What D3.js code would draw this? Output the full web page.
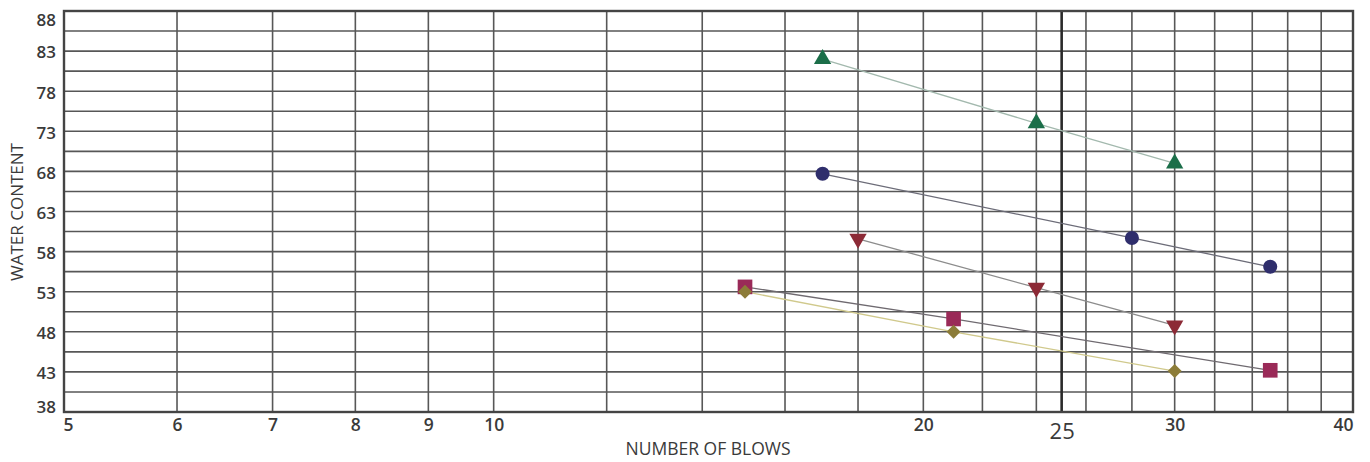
<!DOCTYPE html>
<html>
<head>
<meta charset="utf-8">
<script src="https://cdn.jsdelivr.net/npm/d3@7"></script>
<style>
  html, body { margin: 0; padding: 0; background: #fff; }
  svg { display: block; }
  text { font-family: "Open Sans", Lato, sans-serif; fill: #3a3a3a; }
</style>
</head>
<body>
<svg id="chart" width="1370" height="462"></svg>
<script>
// ---- data ----
const xTickLabels = [5, 6, 7, 8, 9, 10, 20, 25, 30, 40];
const xGridValues = [5, 6, 7, 8, 9, 10, 12, 14, 16, 18, 20, 22, 24, 25, 26, 28, 30, 32, 34, 36, 38, 40];
const yTickLabels = [38, 43, 48, 53, 58, 63, 68, 73, 78, 83, 88];
const yGridValues = d3.range(38, 88.01, 2.5);

const seriesNames = ["Triangle", "Circle", "InvTriangle", "Square", "Diamond"];
const blowsTriangle = [17, 24, 30];
const waterTriangle = [82, 74, 69];
const blowsCircle = [17, 28, 35];
const waterCircle = [67.7, 59.7, 56.1];
const blowsInvTriangle = [18, 24, 30];
const waterInvTriangle = [59.6, 53.5, 48.8];
const blowsSquare = [15, 21, 35];
const waterSquare = [53.6, 49.6, 43.2];
const blowsDiamond = [15, 21, 30];
const waterDiamond = [53.0, 48.0, 43.1];

const series = [
  { name: seriesNames[0], x: blowsTriangle, y: waterTriangle, color: "#1b6e49", line: "#a3b9ae", sym: d3.symbolTriangle, size: 130, rot: 0 },
  { name: seriesNames[1], x: blowsCircle, y: waterCircle, color: "#2f2e6c", line: "#6c6c78", sym: d3.symbolCircle, size: 155, rot: 0 },
  { name: seriesNames[2], x: blowsInvTriangle, y: waterInvTriangle, color: "#8c2a36", line: "#8c8c8c", sym: d3.symbolTriangle, size: 130, rot: 180 },
  { name: seriesNames[3], x: blowsSquare, y: waterSquare, color: "#9a2a58", line: "#6f6a70", sym: d3.symbolSquare, size: 215, rot: 0 },
  { name: seriesNames[4], x: blowsDiamond, y: waterDiamond, color: "#8c7c38", line: "#d0c98c", sym: d3.symbolDiamond2, size: 125, rot: 0 }
];

// ---- layout ----
const mLeft = 64, mRight = 1353, mTop = 11, mBottom = 412;
const svg = d3.select("#chart");

const x = d3.scaleLog().domain([5, 40]).range([mLeft, mRight]);
const y = d3.scaleLinear().domain([38, 88]).range([mBottom, mTop]);

// horizontal grid
svg.append("g").selectAll("line").data(yGridValues).join("line")
  .attr("x1", mLeft).attr("x2", mRight)
  .attr("y1", d => y(d)).attr("y2", d => y(d))
  .attr("stroke", "#575757").attr("stroke-width", 1.6);

// vertical grid
svg.append("g").selectAll("line").data(xGridValues).join("line")
  .attr("x1", d => x(d)).attr("x2", d => x(d))
  .attr("y1", mTop).attr("y2", mBottom)
  .attr("stroke", d => d === 25 ? "#2a2a2a" : "#575757")
  .attr("stroke-width", d => d === 25 ? 2.6 : 1.6);

// frame
svg.append("rect")
  .attr("x", mLeft).attr("y", mTop)
  .attr("width", mRight - mLeft).attr("height", mBottom - mTop)
  .attr("fill", "none").attr("stroke", "#444").attr("stroke-width", 2.4);

// x axis labels
const xAxis = d3.axisBottom(x).tickValues(xTickLabels).tickFormat(d3.format("d")).tickSize(0);
const gx = svg.append("g").attr("transform", `translate(0,${mBottom})`).call(xAxis);
gx.select(".domain").remove();
gx.selectAll("text")
  .attr("dy", "0")
  .style("font-family", "'Open Sans', sans-serif")
  .style("font-size", d => d === 25 ? "22px" : "17.5px")
  .style("font-weight", d => d === 25 ? "400" : "600")
  .attr("y", d => d === 25 ? 27 : 19)
  .attr("dx", d => d === 5 ? 4 : (d === 40 ? -10 : 0))
  .attr("fill", "#3c3c3c");

// y axis labels
const yAxis = d3.axisLeft(y).tickValues(yTickLabels).tickFormat(d3.format("d")).tickSize(0).tickPadding(8);
const gy = svg.append("g").attr("transform", `translate(${mLeft},0)`).call(yAxis);
gy.select(".domain").remove();
gy.selectAll("text")
  .style("font-family", "'Open Sans', sans-serif")
  .style("font-size", "17px")
  .style("font-weight", "600")
  .attr("fill", "#3c3c3c")
  .attr("dy", d => d === 88 ? "0.85em" : (d === 38 ? "0.05em" : "0.4em"));

// axis titles
svg.append("text")
  .attr("x", 708).attr("y", 455)
  .attr("text-anchor", "middle")
  .style("font-size", "17.5px")
  .text("NUMBER OF BLOWS");

svg.append("text")
  .attr("transform", "translate(23,212) rotate(-90)")
  .attr("text-anchor", "middle")
  .style("font-size", "17px")
  .text("WATER CONTENT");

// series lines
const lineGen = d3.line().x(d => x(d[0])).y(d => y(d[1]));
series.forEach(s => {
  const pts = s.x.map((v, i) => [v, s.y[i]]);
  svg.append("path")
    .datum(pts)
    .attr("d", lineGen)
    .attr("fill", "none")
    .attr("stroke", s.line)
    .attr("stroke-width", 1.3);
});

// markers
series.forEach(s => {
  const pts = s.x.map((v, i) => [v, s.y[i]]);
  svg.append("g").selectAll("path").data(pts).join("path")
    .attr("d", d3.symbol().type(s.sym).size(s.size))
    .attr("transform", d => `translate(${x(d[0])},${y(d[1])}) rotate(${s.rot})`)
    .attr("fill", s.color);
});
</script>
</body>
</html>
